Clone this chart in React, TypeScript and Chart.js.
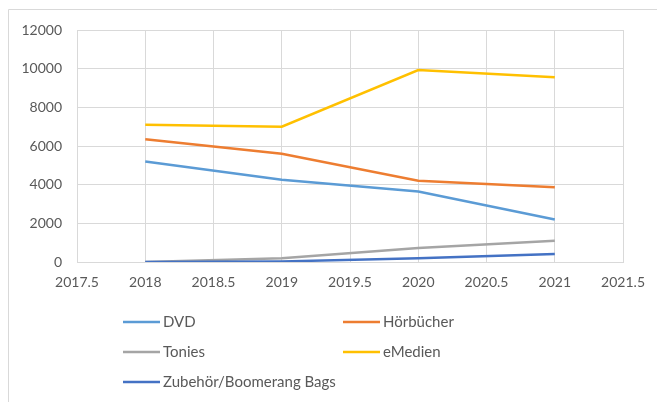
import { useEffect, useRef } from "react";
import { Chart, registerables } from "chart.js";

Chart.register(...registerables);

const years = [2018, 2019, 2020, 2021];
const seriesNames = ["DVD", "Hörbücher", "Tonies", "eMedien", "Zubehör/Boomerang Bags"];
const dvd = [5200, 4250, 3650, 2200];
const hoerbuecher = [6350, 5600, 4200, 3870];
const tonies = [0, 200, 720, 1100];
const emedien = [7100, 7000, 9930, 9550];
const zubehoer = [0, 30, 190, 410];
const seriesColors = ["#5B9BD5", "#ED7D31", "#A5A5A5", "#FFC000", "#4472C4"];
const xMin = 2017.5;
const xMax = 2021.5;
const xStep = 0.5;
const yMin = 0;
const yMax = 12000;
const yStep = 2000;

const TEXT = "#595959";
const GRID = "#D9D9D9";
const FONT = "Lato";

const framePlugin = {
  id: "frame",
  beforeDraw(chart: any) {
    const ctx = chart.ctx;
    ctx.save();
    ctx.strokeStyle = GRID;
    ctx.lineWidth = 1;
    ctx.beginPath();
    ctx.moveTo(8.5, chart.height);
    ctx.lineTo(8.5, 9.5);
    ctx.lineTo(chart.width, 9.5);
    ctx.stroke();
    ctx.restore();
  },
};

const legendPlugin = {
  id: "gridLegend",
  afterDraw(chart: any) {
    const ctx = chart.ctx;
    const cols = [123, 343];
    const rows = [322, 352, 382];
    ctx.save();
    ctx.font = `15px ${FONT}`;
    ctx.textBaseline = "middle";
    ctx.textAlign = "left";
    chart.data.datasets.forEach((ds: any, i: number) => {
      const x = cols[i % 2];
      const y = rows[Math.floor(i / 2)];
      ctx.strokeStyle = ds.borderColor;
      ctx.lineWidth = 2.5;
      ctx.beginPath();
      ctx.moveTo(x, y);
      ctx.lineTo(x + 37, y);
      ctx.stroke();
      ctx.fillStyle = TEXT;
      ctx.fillText(ds.label, x + 40, y);
    });
    ctx.restore();
  },
};

export default function App() {
  const ref = useRef<HTMLCanvasElement | null>(null);

  useEffect(() => {
    if (!ref.current) return;
    const values = [dvd, hoerbuecher, tonies, emedien, zubehoer];
    const chart = new Chart(ref.current, {
      type: "scatter",
      data: {
        datasets: seriesNames.map((name, i) => ({
          label: name,
          data: years.map((x, j) => ({ x, y: values[i][j] })),
          showLine: true,
          borderColor: seriesColors[i],
          backgroundColor: seriesColors[i],
          borderWidth: 2.5,
          pointRadius: 0,
          pointHoverRadius: 0,
          tension: 0,
          order: seriesNames.length - i,
        })),
      },
      options: {
        animation: false,
        responsive: false,
        devicePixelRatio: 1,
        layout: { padding: { top: 30, right: 33, left: 0, bottom: 0 } },
        plugins: {
          legend: { display: false },
          tooltip: { enabled: false },
        },
        scales: {
          x: {
            type: "linear",
            min: xMin,
            max: xMax,
            afterFit: (s: any) => {
              s.height = 140;
            },
            ticks: {
              stepSize: xStep,
              color: TEXT,
              font: { family: FONT, size: 14 },
              padding: 12,
              maxRotation: 0,
              autoSkip: false,
              callback: (v: any) => String(v),
            },
            grid: { color: GRID, drawTicks: false },
            border: { color: GRID },
          },
          y: {
            type: "linear",
            min: yMin,
            max: yMax,
            afterFit: (s: any) => {
              s.width = 77;
            },
            ticks: {
              stepSize: yStep,
              color: TEXT,
              font: { family: FONT, size: 14 },
              padding: 15,
              callback: (v: any) => String(v),
            },
            grid: { color: GRID, drawTicks: false },
            border: { color: GRID },
          },
        },
      },
      plugins: [framePlugin, legendPlugin],
    });
    return () => chart.destroy();
  }, []);

  return (
    <div style={{ position: "absolute", left: 0, top: 0, width: 657, height: 402, background: "#fff" }}>
      <canvas ref={ref} width={657} height={402} style={{ width: 657, height: 402, display: "block" }} />
    </div>
  );
}
